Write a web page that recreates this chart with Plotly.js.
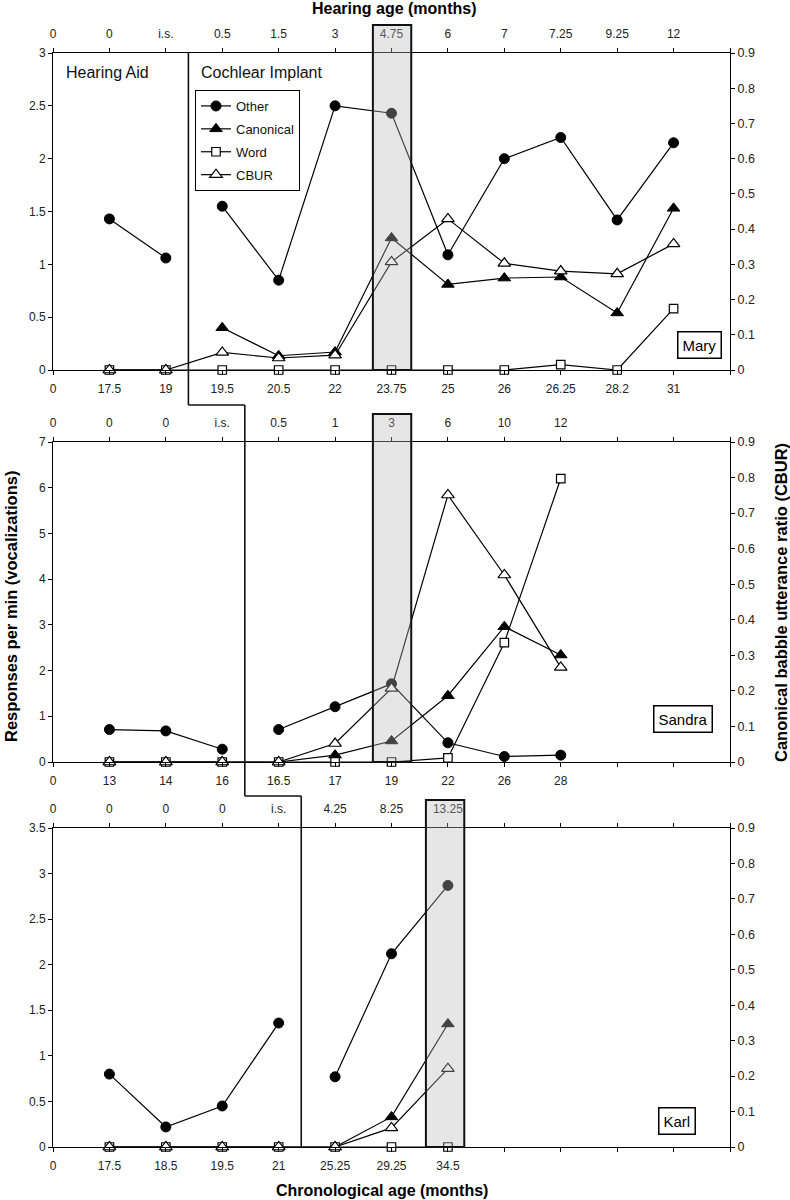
<!DOCTYPE html>
<html>
<head>
<meta charset="utf-8">
<script src="https://cdn.plot.ly/plotly-3.0.1.min.js"></script>
<style>
  html, body { margin: 0; padding: 0; background: #fff; }
  #chart { width: 790px; height: 1200px; }
</style>
</head>
<body>
<div id="chart"></div>
<script>
// ---------------- DATA ----------------
const seriesNames = ['Other', 'Canonical', 'Word', 'CBUR'];

// Mary
const mary_chrono_ticks  = ['0', '17.5', '19', '19.5', '20.5', '22', '23.75', '25', '26', '26.25', '28.2', '31'];
const mary_hearing_ticks = ['0', '0', 'i.s.', '0.5', '1.5', '3', '4.75', '6', '7', '7.25', '9.25', '12'];
const mary_other = [1.43, 1.06, 1.55, 0.85, 2.5, 2.43, 1.09, 2.0, 2.2, 1.42, 2.15];
const mary_canon = [0, 0, 0.4, 0.135, 0.17, 1.25, 0.81, 0.87, 0.88, 0.54, 1.53];
const mary_word  = [0, 0, 0, 0, 0, 0, 0, 0, 0.05, 0, 0.58];
const mary_cbur  = [0, 0, 0.05, 0.034, 0.042, 0.307, 0.429, 0.303, 0.281, 0.273, 0.358];

// Sandra
const sandra_chrono_ticks  = ['0', '13', '14', '16', '16.5', '17', '19', '22', '26', '28'];
const sandra_hearing_ticks = ['0', '0', '0', 'i.s.', '0.5', '1', '3', '6', '10', '12'];
const sandra_other = [0.71, 0.68, 0.28, 0.71, 1.21, 1.71, 0.42, 0.12, 0.15];
const sandra_canon = [0, 0, 0, 0, 0.15, 0.46, 1.45, 2.96, 2.34];
const sandra_word  = [0, 0, 0, 0, 0, 0, 0.09, 2.61, 6.2];
const sandra_cbur  = [0, 0, 0, 0, 0.052, 0.207, 0.751, 0.526, 0.266];

// Karl
const karl_chrono_ticks  = ['0', '17.5', '18.5', '19.5', '21', '25.25', '29.25', '34.5'];
const karl_hearing_ticks = ['0', '0', '0', '0', 'i.s.', '4.25', '8.25', '13.25'];
const karl_other = [0.8, 0.22, 0.45, 1.36, 0.77, 2.12, 2.87];
const karl_canon = [0, 0, 0, 0, 0, 0.33, 1.35];
const karl_word  = [0, 0, 0, 0, 0, 0, 0];
const karl_cbur  = [0, 0, 0, 0, 0, 0.054, 0.221];

// first cochlear-implant session index, highlighted session index
const implantIndex = { Mary: 2, Sandra: 3, Karl: 4 };
const highlightIndex = { Mary: 5, Sandra: 5, Karl: 6 };
const leftMax = { Mary: 3, Sandra: 7, Karl: 3.5 };
const leftStep = { Mary: 0.5, Sandra: 1, Karl: 0.5 };

// ---------------- LAYOUT HELPERS ----------------
const W = 790, H = 1200, L = 53, R = 730;
const PX = x => (x - L) / (R - L);
const PY = y => 1 - y / H;
const FONT = 'Liberation Sans, Arial, Helvetica, sans-serif';

const panels = [
  { name: 'Mary', chrono: mary_chrono_ticks, hearing: mary_hearing_ticks,
    vals: [mary_other, mary_canon, mary_word, mary_cbur],
    top: 53, bottom: 370, rectTop: 25, hiShift: 0, box: [699, 345.5] },
  { name: 'Sandra', chrono: sandra_chrono_ticks, hearing: sandra_hearing_ticks,
    vals: [sandra_other, sandra_canon, sandra_word, sandra_cbur],
    top: 442, bottom: 762, rectTop: 414, hiShift: 0, box: [682.5, 718.5] },
  { name: 'Karl', chrono: karl_chrono_ticks, hearing: karl_hearing_ticks,
    vals: [karl_other, karl_canon, karl_word, karl_cbur],
    top: 828, bottom: 1147, rectTop: 800, hiShift: -0.06, box: [677, 1121] }
];

const markers = [
  { symbol: 'circle', size: 10, color: '#000', line: { color: '#000', width: 1 } },
  { symbol: 'triangle-up', size: 11, color: '#000', line: { color: '#000', width: 1 } },
  { symbol: 'square', size: 8.5, color: '#fff', line: { color: '#000', width: 1.2 } },
  { symbol: 'triangle-up', size: 11, color: '#fff', line: { color: '#000', width: 1.2 } }
];

const traces = [];
const layout = {
  width: W, height: H,
  margin: { l: L, r: W - R, t: 0, b: 0, pad: 0 },
  paper_bgcolor: '#fff', plot_bgcolor: 'rgba(0,0,0,0)',
  font: { family: FONT, color: '#222', size: 12 },
  showlegend: true,
  legend: {
    x: PX(195), y: PY(90), xanchor: 'left', yanchor: 'top',
    bgcolor: '#fff', bordercolor: '#000', borderwidth: 1,
    font: { family: FONT, size: 13, color: '#111' },
    tracegroupgap: 3, traceorder: 'grouped',
    itemclick: false, itemdoubleclick: false
  },
  shapes: [], annotations: []
};

const ticks13 = Array.from({ length: 13 }, (_, i) => i);

panels.forEach((p, k) => {
  const xb = 'x' + (k === 0 ? '' : (2 * k + 1));
  const xt = 'x' + (2 * k + 2);
  const yl = 'y' + (k === 0 ? '' : (2 * k + 1));
  const yr = 'y' + (2 * k + 2);
  const xbKey = 'xaxis' + (k === 0 ? '' : (2 * k + 1));
  const xtKey = 'xaxis' + (2 * k + 2);
  const ylKey = 'yaxis' + (k === 0 ? '' : (2 * k + 1));
  const yrKey = 'yaxis' + (2 * k + 2);

  const pad = arr => ticks13.map(i => (i < arr.length ? arr[i] : ''));
  const common = {
    range: [0, 12], tickmode: 'array', tickvals: ticks13,
    ticks: 'outside', ticklen: 4, tickwidth: 1, tickcolor: '#000',
    showline: true, linecolor: '#000', linewidth: 1,
    showgrid: false, zeroline: false, automargin: false, fixedrange: true,
    tickfont: { family: FONT, size: 12, color: '#222' }
  };
  layout[xbKey] = Object.assign({}, common, {
    ticktext: pad(p.chrono), anchor: yl, side: 'bottom', domain: [0, 1],
    ticklabelstandoff: 4
  });
  layout[xtKey] = Object.assign({}, common, {
    ticktext: pad(p.hearing), anchor: yl, side: 'top', overlaying: xb,
    ticklabelstandoff: 5
  });
  layout[ylKey] = {
    domain: [PY(p.bottom), PY(p.top)], range: [0, leftMax[p.name]],
    dtick: leftStep[p.name], tick0: 0, anchor: xb, side: 'left',
    ticks: 'outside', ticklen: 4, tickcolor: '#000',
    showline: true, linecolor: '#000', linewidth: 1,
    showgrid: false, zeroline: false, automargin: false, fixedrange: true,
    tickfont: { family: FONT, size: 12, color: '#222' }
  };
  layout[yrKey] = {
    range: [0, 0.9], dtick: 0.1, tick0: 0, anchor: xb, side: 'right', overlaying: yl,
    ticks: 'outside', ticklen: 4, tickcolor: '#000',
    showline: true, linecolor: '#000', linewidth: 1,
    showgrid: false, zeroline: false, automargin: false, fixedrange: true,
    tickfont: { family: FONT, size: 12.5, color: '#222' }
  };

  const imp = implantIndex[p.name];
  p.vals.forEach((v, s) => {
    const xs = v.map((_, i) => i + 1);
    const base = {
      type: 'scatter', mode: 'lines+markers', cliponaxis: false,
      line: { color: '#000', width: 1.2 },
      marker: markers[s], name: seriesNames[s], legendgroup: seriesNames[s],
      hoverinfo: 'skip', xaxis: xb, yaxis: s === 3 ? yr : yl
    };
    if (s < 2) {
      // Other & Canonical: line broken at implant
      traces.push(Object.assign({}, base, { x: xs.slice(0, imp), y: v.slice(0, imp), showlegend: false }));
      traces.push(Object.assign({}, base, { x: xs.slice(imp), y: v.slice(imp), showlegend: k === 0 }));
    } else {
      traces.push(Object.assign({}, base, { x: xs, y: v, showlegend: k === 0 }));
    }
  });
  // register top axis subplot
  traces.push({ type: 'scatter', x: [null], y: [null], xaxis: xt, yaxis: yl, showlegend: false, hoverinfo: 'skip' });

  // highlighted session (grey box)
  const hc = highlightIndex[p.name] + 1 + p.hiShift;
  layout.shapes.push({
    type: 'rect', xref: xb, yref: 'paper', layer: 'above',
    x0: hc - 0.33, x1: hc + 0.35, y0: PY(p.bottom), y1: PY(p.rectTop),
    fillcolor: 'rgba(185,185,185,0.36)', line: { color: '#111', width: 2 }
  });

  // name box
  layout.annotations.push({
    xref: 'paper', yref: 'paper', x: PX(p.box[0]), y: PY(p.box[1]),
    xanchor: 'center', yanchor: 'middle', text: p.name, showarrow: false,
    font: { family: FONT, size: 15, color: '#000' },
    bgcolor: '#fff', bordercolor: '#000', borderwidth: 1.5, borderpad: 4
  });
});

// step line separating Hearing Aid / Cochlear Implant
const xStep = [implantIndex.Mary + 0.4, implantIndex.Sandra + 0.4, implantIndex.Karl + 0.4];
const yStep = [[53, 405], [405, 796], [796, 1147]];
xStep.forEach((xv, i) => {
  layout.shapes.push({ type: 'line', xref: 'x', yref: 'paper', layer: 'above',
    x0: xv, x1: xv, y0: PY(yStep[i][0]), y1: PY(yStep[i][1]), line: { color: '#111', width: 1.6 } });
  if (i < 2) {
    layout.shapes.push({ type: 'line', xref: 'x', yref: 'paper', layer: 'above',
      x0: xv, x1: xStep[i + 1], y0: PY(yStep[i][1]), y1: PY(yStep[i][1]), line: { color: '#111', width: 1.6 } });
  }
});

// texts
const A = (text, x, y, opts) => Object.assign({
  xref: 'paper', yref: 'paper', x: PX(x), y: PY(y), text, showarrow: false,
  xanchor: 'center', yanchor: 'middle', font: { family: FONT, size: 16, color: '#000' }
}, opts || {});
layout.annotations.push(
  A('<b>Hearing age (months)</b>', 394, 8, { font: { family: FONT, size: 16, color: '#000' } }),
  A('<b>Chronological age (months)</b>', 382, 1190, { font: { family: FONT, size: 16, color: '#000' } }),
  A('<b>Responses per min (vocalizations)</b>', 11, 607, { textangle: -90, font: { family: FONT, size: 16.5, color: '#000' } }),
  A('<b>Canonical babble utterance ratio (CBUR)</b>', 781, 603, { textangle: -90, font: { family: FONT, size: 16.5, color: '#000' } }),
  A('Hearing Aid', 64, 73, { xanchor: 'left', font: { family: FONT, size: 16, color: '#111' } }),
  A('Cochlear Implant', 199, 73, { xanchor: 'left', font: { family: FONT, size: 16, color: '#111' } })
);

Plotly.newPlot('chart', traces, layout, { staticPlot: true, displayModeBar: false });
</script>
</body>
</html>
